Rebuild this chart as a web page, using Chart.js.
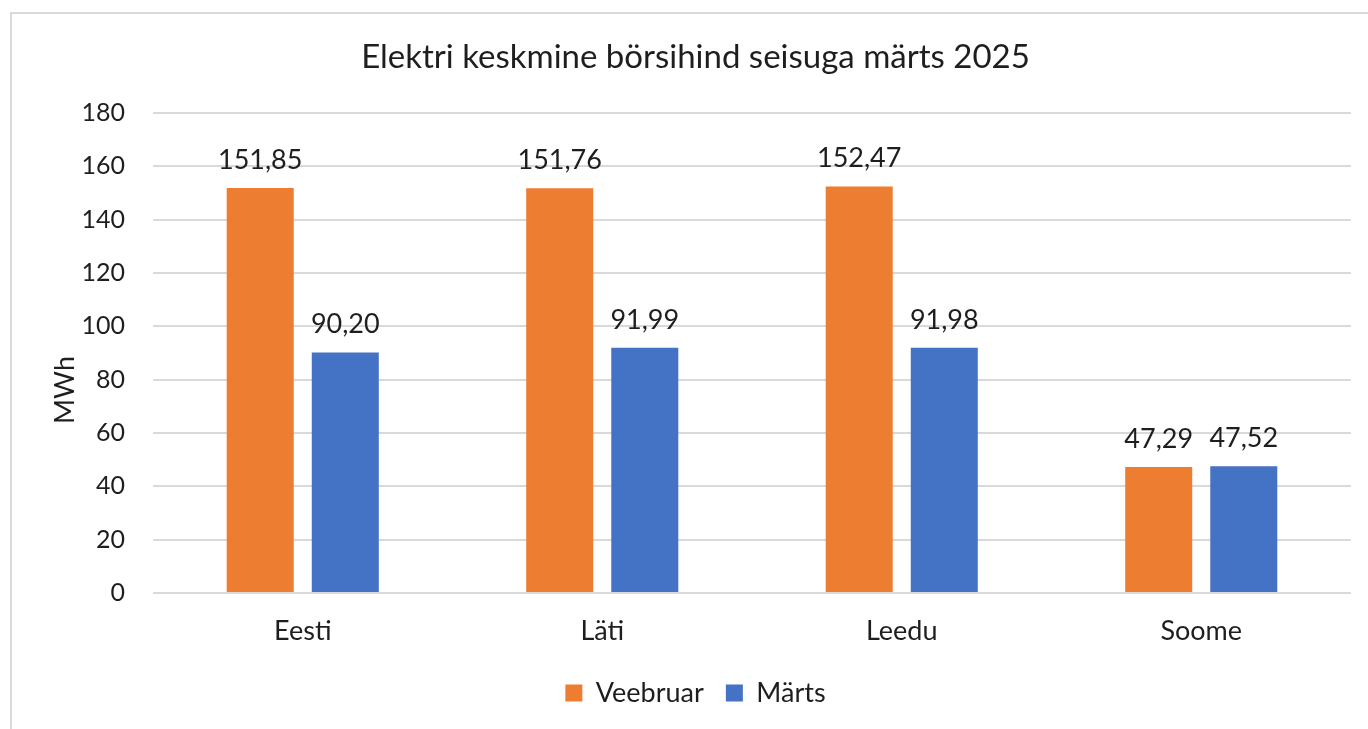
<!DOCTYPE html>
<html>
<head>
<meta charset="utf-8">
<script src="https://cdn.jsdelivr.net/npm/chart.js@4/dist/chart.umd.min.js"></script>
<style>
  html, body { margin: 0; padding: 0; background: #ffffff; overflow: hidden; }
  #frame { position: absolute; left: 10px; top: 12px; width: 1400px; height: 760px; border: 2px solid #d9d9d9; box-sizing: border-box; }
  #wrap { position: absolute; left: 0; top: 0; width: 1368px; height: 729px; }
</style>
</head>
<body>
<div id="frame"></div>
<div id="wrap"><canvas id="c" width="1368" height="729"></canvas></div>
<script>
const categories = ["Eesti", "Läti", "Leedu", "Soome"];
const seriesNames = ["Veebruar", "Märts"];
const veebruar = [151.85, 151.76, 152.47, 47.29];
const marts = [90.20, 91.99, 91.98, 47.52];
const yTicks = [0, 20, 40, 60, 80, 100, 120, 140, 160, 180];
const titleText = "Elektri keskmine börsihind seisuga märts 2025";
const yAxisTitle = "MWh";

const FONT = "Lato";
const TEXT = "#1e1e1e";

function fmt(v) { return v.toFixed(2).replace(".", ","); }

const dataLabels = {
  id: "dataLabels",
  afterDatasetsDraw(chart) {
    const ctx = chart.ctx;
    ctx.save();
    ctx.font = "27px " + FONT;
    ctx.fillStyle = TEXT;
    ctx.textAlign = "center";
    ctx.textBaseline = "alphabetic";
    chart.data.datasets.forEach((ds, di) => {
      const meta = chart.getDatasetMeta(di);
      meta.data.forEach((bar, i) => {
        ctx.fillText(fmt(ds.data[i]), bar.x, bar.y - 19);
      });
    });
    ctx.restore();
  }
};

const yTitle = {
  id: "yTitle",
  afterDraw(chart) {
    const ctx = chart.ctx;
    const area = chart.chartArea;
    ctx.save();
    ctx.font = "27px " + FONT;
    ctx.fillStyle = TEXT;
    ctx.textAlign = "center";
    ctx.textBaseline = "middle";
    ctx.translate(area.left - 88, (area.top + area.bottom) / 2 + 37);
    ctx.rotate(-Math.PI / 2);
    ctx.fillText(yAxisTitle, 0, 0);
    ctx.restore();
  }
};

new Chart(document.getElementById("c"), {
  type: "bar",
  data: {
    labels: categories,
    datasets: [
      { label: seriesNames[0], data: veebruar, backgroundColor: "#ED7D31", borderWidth: 0 },
      { label: seriesNames[1], data: marts, backgroundColor: "#4472C4", borderWidth: 0 }
    ]
  },
  options: {
    responsive: false,
    animation: false,
    devicePixelRatio: 1,
    layout: { padding: { left: 40, right: 17, top: 0, bottom: 12.5 } },
    datasets: { bar: { categoryPercentage: 0.568, barPercentage: 0.788 } },
    plugins: {
      title: {
        display: true,
        text: titleText,
        color: TEXT,
        font: { family: FONT, size: 33, weight: "normal", lineHeight: 1.2 },
        padding: { top: 38, bottom: 35.4 }
      },
      legend: {
        display: true,
        position: "bottom",
        labels: {
          color: TEXT,
          font: { family: FONT, size: 27 },
          boxWidth: 17,
          boxHeight: 17,
          padding: 22
        }
      },
      tooltip: { enabled: false }
    },
    scales: {
      x: {
        grid: { display: false, drawTicks: false },
        border: { display: false },
        ticks: { color: TEXT, font: { family: FONT, size: 27 }, padding: 22 },
        afterFit(scale) { scale.height = 64.5; }
      },
      y: {
        min: 0,
        max: 180,
        afterBuildTicks(scale) { scale.ticks = yTicks.map(v => ({ value: v })); },
        grid: { color: "#d9d9d9", lineWidth: 2, drawTicks: false },
        border: { display: false },
        ticks: { color: TEXT, font: { family: FONT, size: 25 }, padding: 28 },
        afterFit(scale) { scale.width = 113; }
      }
    }
  },
  plugins: [dataLabels, yTitle]
});
</script>
</body>
</html>
